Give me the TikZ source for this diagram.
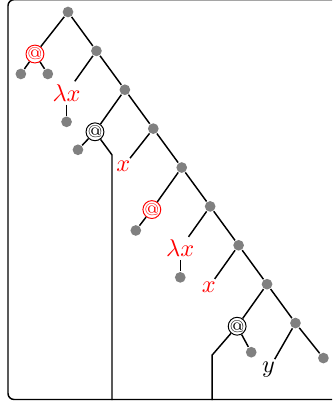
\documentclass[tikz,border=0pt]{standalone}
\usetikzlibrary{positioning}

\begin{document}
\begin{tikzpicture}[x=0.4115pt, y=0.4115pt, semithick, on grid, node distance=16pt and 11.7pt]
\tikzstyle{dot}=[circle, fill=gray, inner sep=0pt, minimum size=4.4pt]
\tikzstyle{app}=[circle, draw, thin, inner sep=-0.2pt, font=\scriptsize]
\tikzstyle{lbl}=[inner sep=1pt]

\useasboundingbox (0,0) rectangle (332,-404);
\clip (0,0) rectangle (332,-404);
\draw[rounded corners=2.5pt] (8,0.3) rectangle (350,-399.5);
\coordinate (base) at (0,-400);

% spine
\node[dot] (s1) at (68,-12) {};
\node[dot] (s2) [below right=of s1] {};
\node[dot] (s3) [below right=of s2] {};
\node[dot] (s4) [below right=of s3] {};
\node[dot] (s5) [below right=of s4] {};
\node[dot] (s6) [below right=of s5] {};
\node[dot] (s7) [below right=of s6] {};
\node[dot] (s8) [below right=of s7] {};
\node[dot] (s9) [below right=of s8] {};
\node[dot] (e) [below right=14.4pt and 11.5pt of s9] {};

% left branches
\node[app, red] (a1) [below left=17.3pt and 13.6pt of s1] {@};
\node[lbl, red] (l1) [below left=17.3pt and 12.3pt of s2] {$\lambda x$};
\node[app] (a2) [below left=17.3pt and 12.3pt of s3] {@};
\node[lbl, red] (x1) [below left=15.6pt and 12.3pt of s4] {$x$};
\node[app, red] (a3) [below left=17.3pt and 12.3pt of s5] {@};
\node[lbl, red] (l2) [below left=17.3pt and 12.3pt of s6] {$\lambda x$};
\node[lbl, red] (x2) [below left=17.3pt and 12.3pt of s7] {$x$};
\node[app] (a4) [below left=17.3pt and 12.3pt of s8] {@};
\node[lbl] (y) [below left=19.3pt and 11.1pt of s9] {$y$};

% leaves
\node[dot] (d1) [below left=8.2pt and 5.8pt of a1] {};
\node[dot] (d2) [below right=8.2pt and 5.3pt of a1] {};
\node[dot] (d3) [below=11.9pt of l1] {};
\node[dot] (d4) [below left=7.4pt and 7pt of a2] {};
\node[dot] (d5) [below left=8.6pt and 6.6pt of a3] {};
\node[dot] (d6) [below=11.9pt of l2] {};
\node[dot] (d7) [below right=10.7pt and 5.8pt of a4] {};
\coordinate[below right=9.5pt and 7pt of a2] (b1);
\coordinate[below left=11.9pt and 10.3pt of a4] (b2);

\path
(s1) edge (s2) edge (a1)
(s2) edge (s3) edge (l1)
(s3) edge (s4) edge (a2)
(s4) edge (s5) edge (x1)
(s5) edge (s6) edge (a3)
(s6) edge (s7) edge (l2)
(s7) edge (s8) edge (x2)
(s8) edge (s9) edge (a4)
(s9) edge (e) edge (y)
(a1) edge (d1) edge (d2)
(l1) edge (d3)
(a2) edge (d4)
(a3) edge (d5)
(l2) edge (d6)
(a4) edge (d7);

\draw (a2) -- (b1) -- (b1 |- base);
\draw (a4) -- (b2) -- (b2 |- base);
\end{tikzpicture}
\end{document}
